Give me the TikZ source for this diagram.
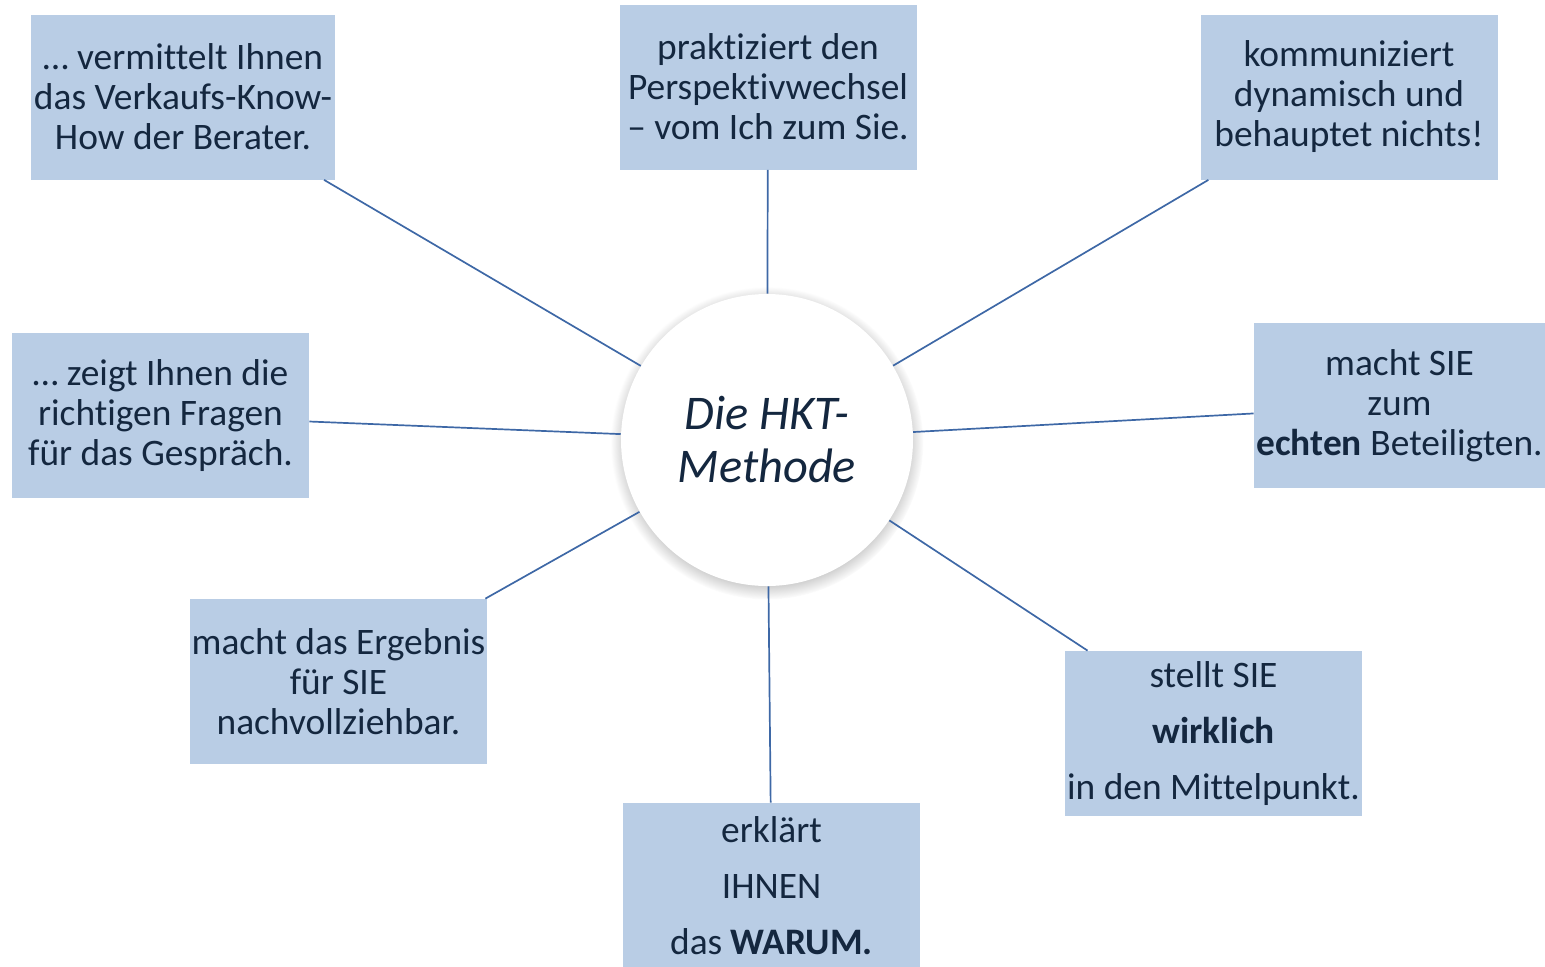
\documentclass[tikz,border=0pt]{standalone}
\usepackage{fontspec}
\setmainfont{Carlito}[Ligatures=NoCommon]
\usetikzlibrary{positioning,shadows}
\definecolor{kasten}{HTML}{B9CDE5}
\definecolor{schrift}{HTML}{14273F}
\definecolor{linie}{HTML}{3E68A6}

\begin{document}
\begin{tikzpicture}[on grid,text=schrift,
                    every edge/.style={draw=linie,line width=0.85pt},
                    font=\fontsize{18.7pt}{20pt}\selectfont]
  \tikzstyle{karte}=[fill=kasten,align=center,inner sep=0pt,
                     minimum width=148.5pt,minimum height=82.5pt]
  \tikzstyle{weit}=[font=\fontsize{18.7pt}{28pt}\selectfont]
  \tikzstyle{mitte}=[circle,fill=white,align=center,minimum size=146pt,
                     circular drop shadow={shadow xshift=0pt,shadow yshift=-1.5pt,
                                           shadow scale=1.07,opacity=0.6},
                     font=\fontsize{24.2pt}{26.5pt}\selectfont\itshape]

  \useasboundingbox (-383.5pt,220pt) rectangle (389pt,-263pt);

  \node[mitte] (hkt) {Die HKT-\\Methode};

  \node[karte,minimum width=152pt] (vk) [above left=171.5pt and 292pt of hkt]
        {… vermittelt Ihnen\\das Verkaufs-Know-\\How der Berater.};
  \node[karte] (pw) [above right=176.5pt and 0.5pt of hkt]
        {praktiziert den\\Perspektivwechsel\\– vom Ich zum Sie.};
  \node[karte] (kd) [above right=171.5pt and 291pt of hkt]
        {kommuniziert\\dynamisch und\\behauptet nichts!};
  \node[karte] (zf) [above left=12.25pt and 303.25pt of hkt]
        {… zeigt Ihnen die\\richtigen Fragen\\für das Gespräch.};
  \node[karte,minimum width=145.5pt] (bt) [above right=17.25pt and 316.25pt of hkt]
        {macht SIE\\zum\\\textbf{echten} Beteiligten.};
  \node[karte] (ne) [below left=120.75pt and 214.25pt of hkt]
        {macht das Ergebnis\\für SIE\\nachvollziehbar.};
  \node[karte,weit] (wa) [below right=222.75pt and 2.25pt of hkt]
        {erklärt\\IHNEN\\das \textbf{WARUM.}};
  \node[karte,weit] (mp) [below right=146.75pt and 223.25pt of hkt]
        {stellt SIE\\\textbf{wirklich}\\in den Mittelpunkt.};

  \path (hkt) edge (vk)
              edge (pw)
              edge (kd)
              edge (zf)
              edge (bt)
              edge (ne)
              edge (wa)
              edge (mp);
\end{tikzpicture}
\end{document}
